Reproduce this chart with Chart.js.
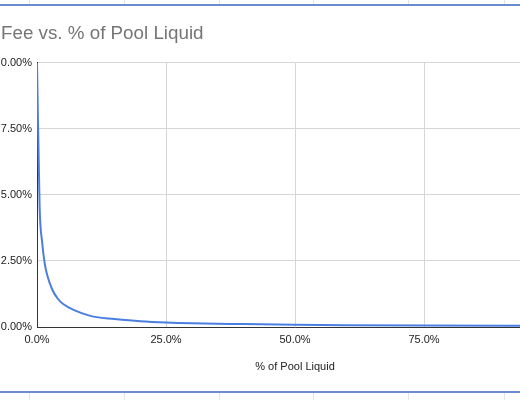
<!DOCTYPE html>
<html>
<head>
<meta charset="utf-8">
<script src="https://cdn.jsdelivr.net/npm/chart.js@4/dist/chart.umd.min.js"></script>
<style>
  html, body { margin: 0; padding: 0; background: #fff; overflow: hidden; }
  #page { position: relative; width: 520px; height: 400px; overflow: hidden; background: #fff; }
  #wrap { position: absolute; left: -8px; top: 0; width: 600px; height: 400px; }
  .sel { position: absolute; left: 0; width: 520px; height: 2px; background: #6b8bd0; }
  .cell { position: absolute; width: 1px; background: #e3e3e3; }
</style>
</head>
<body>
<div id="page">
  <div id="wrap"><canvas id="canvas_fee" width="600" height="400"></canvas></div>
  <!-- spreadsheet frame around the chart -->
  <div class="sel" style="top:4px"></div>
  <div class="sel" style="top:391px"></div>
  <div class="cell" style="left:29px;top:0;height:4px"></div>
  <div class="cell" style="left:124px;top:0;height:4px"></div>
  <div class="cell" style="left:219px;top:0;height:4px"></div>
  <div class="cell" style="left:313px;top:0;height:4px"></div>
  <div class="cell" style="left:408px;top:0;height:4px"></div>
  <div class="cell" style="left:504px;top:0;height:4px"></div>
  <div class="cell" style="left:29px;top:393px;height:7px"></div>
  <div class="cell" style="left:124px;top:393px;height:7px"></div>
  <div class="cell" style="left:219px;top:393px;height:7px"></div>
  <div class="cell" style="left:313px;top:393px;height:7px"></div>
  <div class="cell" style="left:408px;top:393px;height:7px"></div>
  <div class="cell" style="left:504px;top:393px;height:7px"></div>
</div>
<script>
// % of pool liquid (x) and fee in % (y)
var poolPct = [0, 0.5, 1, 1.5, 2, 3, 4, 5, 10, 15, 20, 25, 30, 40, 50, 60, 75, 100];
var feePct  = [10, 4.6, 3.2, 2.4, 1.95, 1.4, 1.08, 0.88, 0.44, 0.3, 0.22, 0.17, 0.14, 0.11, 0.085, 0.07, 0.057, 0.045];
var xTicks = [0, 25, 50, 75, 100];
var yTicks = [0, 2.5, 5, 7.5, 10];

var points = [];
for (var i = 0; i < poolPct.length; i++) {
    points.push({x: poolPct[i], y: feePct[i]});
}

var font = "'Liberation Sans', Arial, sans-serif";
var ctx = document.getElementById("canvas_fee").getContext("2d");

new Chart(ctx, {
    type: 'line',
    data: {
        datasets: [{
            data: points,
            borderColor: "#4a7ee0",
            borderWidth: 2,
            pointRadius: 0,
            fill: false,
            cubicInterpolationMode: 'monotone'
        }]
    },
    options: {
        responsive: false,
        animation: false,
        layout: { padding: { left: 9, right: 39, top: 0, bottom: 0 } },
        plugins: {
            legend: { display: false },
            tooltip: { enabled: false },
            title: {
                display: true,
                text: "Fee vs. % of Pool Liquid",
                align: 'start',
                color: "#757575",
                font: { family: font, size: 18.8, weight: 'normal' },
                lineHeight: 1.2,
                padding: { top: 23, bottom: 17.4 }
            }
        },
        scales: {
            x: {
                type: 'linear',
                min: 0,
                max: 100,
                afterBuildTicks: function(axis) {
                    axis.ticks = xTicks.map(function(v) { return {value: v}; });
                },
                afterFit: function(axis) { axis.height = 73; },
                grid: { color: "#d6d6d6", drawTicks: false },
                border: { color: "#333", width: 1 },
                ticks: {
                    padding: 6,
                    color: "#222",
                    font: { family: font, size: 11 },
                    maxRotation: 0,
                    callback: function(v) { return v.toFixed(1) + "%"; }
                },
                title: {
                    display: true,
                    text: "% of Pool Liquid",
                    color: "#222",
                    font: { family: font, size: 11 },
                    padding: { top: 0, bottom: 26 }
                }
            },
            y: {
                type: 'linear',
                min: 0,
                max: 10,
                afterBuildTicks: function(axis) {
                    axis.ticks = yTicks.map(function(v) { return {value: v}; });
                },
                afterFit: function(axis) { axis.width = 36; },
                grid: { color: "#d6d6d6", drawTicks: false },
                border: { color: "#333", width: 1 },
                ticks: {
                    padding: 5,
                    color: "#222",
                    font: { family: font, size: 11 },
                    callback: function(v) { return v.toFixed(2) + "%"; }
                }
            }
        }
    }
});
</script>
</body>
</html>
